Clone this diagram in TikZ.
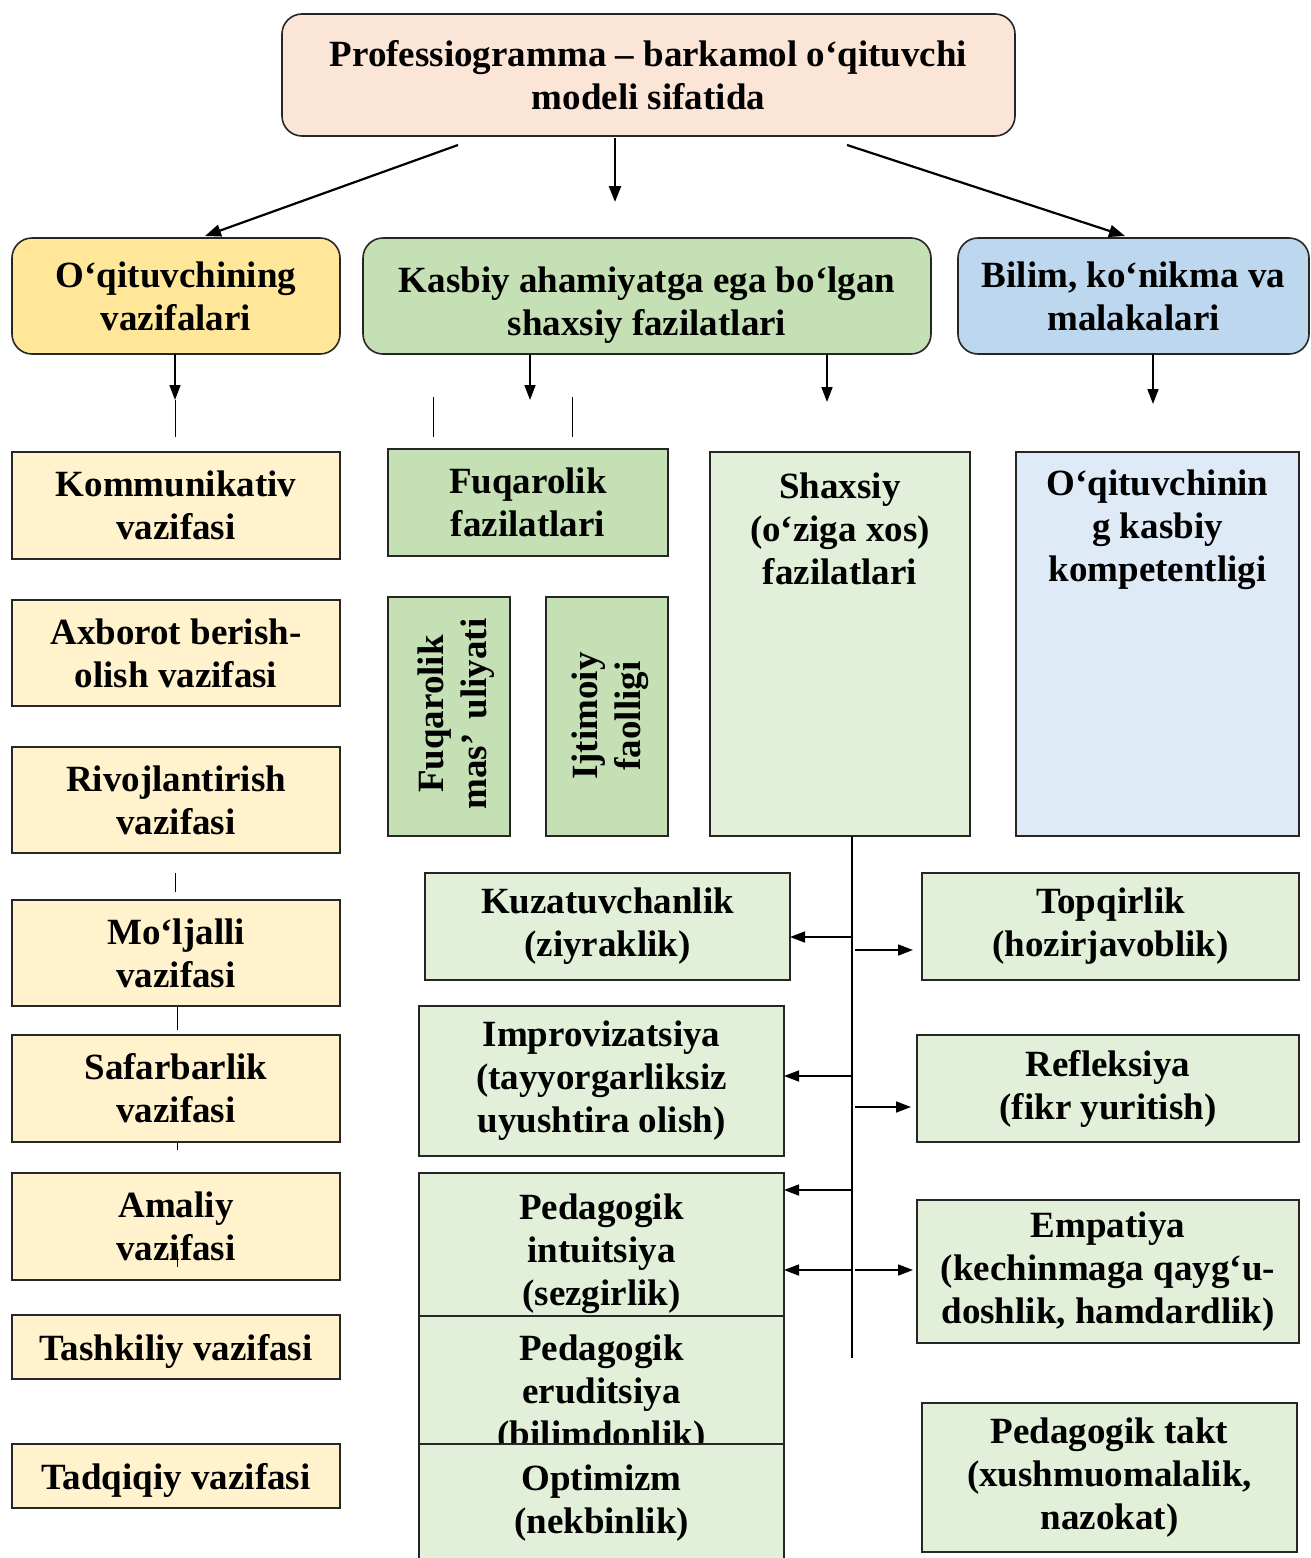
\documentclass[tikz,border=0pt]{standalone}
\usepackage{fontspec}
\setmainfont{Liberation Serif}
\usetikzlibrary{arrows.meta}
\definecolor{cpeach}{HTML}{FBE5D6}
\definecolor{cgold}{HTML}{FFE699}
\definecolor{cgreen}{HTML}{C5E0B4}
\definecolor{cblue}{HTML}{BDD7EE}
\definecolor{cyell}{HTML}{FFF2CC}
\definecolor{clgreen}{HTML}{E2F0D9}
\definecolor{clblue}{HTML}{DEEBF7}
\begin{document}
\begin{tikzpicture}[x=1pt,y=-1pt,
  txt/.style={font=\fontsize{37}{43}\selectfont\bfseries, align=center, inner sep=0pt, outer sep=0pt},
  box/.style={txt, draw=black!85, line width=1.6pt, execute at begin node={\rule{0pt}{34pt}}},
  rbox/.style={box, rounded corners=20pt},
  arr/.style={line width=1.6pt, -{Triangle[length=15pt,width=11pt]}},
  bigarr/.style={line width=2.2pt, -{Triangle[length=16pt,width=12pt]}},
  thin/.style={line width=1pt}]
\useasboundingbox (0,0) rectangle (1311,1558);

% top
\node[rbox, fill=cpeach, minimum width=733pt, minimum height=122pt] (top) at (648.5,75)
  {Professiogramma – barkamol o‘qituvchi\\modeli sifatida};

% row 2
\node[rbox, fill=cgold, minimum width=328pt, minimum height=116pt] (yel) at (176,296)
  {O‘qituvchining\\vazifalari};
\node[rbox, fill=cgreen, minimum width=568pt, minimum height=116pt] (grn) at (647,296)
  {\rule{0pt}{44pt}Kasbiy ahamiyatga ega bo‘lgan\\shaxsiy fazilatlari};
\node[rbox, fill=cblue, minimum width=351pt, minimum height=116pt] (blu) at (1133.5,296)
  {Bilim, ko‘nikma va\\malakalari};

% top arrows
\coordinate (s1) at (458,145); \coordinate (e1) at (205,236);
\coordinate (s2) at (615,138); \coordinate (e2) at (615,202);
\coordinate (s3) at (847,145); \coordinate (e3) at (1125,236);
\draw[bigarr] (s1) -- (e1);
\draw[bigarr] (s2) -- (e2);
\draw[bigarr] (s3) -- (e3);

% row2 down arrows
\coordinate (d1) at (175,400);
\coordinate (d2) at (530,400);
\coordinate (d3) at (827,402);
\coordinate (d4) at (1153,404);
\draw[arr] (d1 |- yel.south) -- (d1);
\draw[arr] (d2 |- grn.south) -- (d2);
\draw[arr] (d3 |- grn.south) -- (d3);
\draw[arr] (d4 |- blu.south) -- (d4);

% thin fragments
\coordinate (l1a) at (175,400); \coordinate (l1b) at (175,437);
\coordinate (l2a) at (433,397); \coordinate (l2b) at (433,437);
\coordinate (l3a) at (572,397); \coordinate (l3b) at (572,437);
\coordinate (l4a) at (175,873); \coordinate (l4b) at (175,892);
\coordinate (l5a) at (177,1006); \coordinate (l5b) at (177,1030);
\coordinate (l6a) at (177,1142); \coordinate (l6b) at (177,1150);
\draw[thin] (l1a) -- (l1b);
\draw[thin] (l2a) -- (l2b);
\draw[thin] (l3a) -- (l3b);
\draw[thin] (l4a) -- (l4b);
\draw[thin] (l5a) -- (l5b);
\draw[thin] (l6a) -- (l6b);

% left column
\node[box, fill=cyell, minimum width=328pt, minimum height=107pt] (komm) at (176,505.5) {Kommunikativ\\vazifasi};
\node[box, fill=cyell, minimum width=328pt, minimum height=106pt] (axb) at (176,653) {Axborot berish-\\olish vazifasi};
\node[box, fill=cyell, minimum width=328pt, minimum height=106pt] (riv) at (176,800) {Rivojlantirish\\vazifasi};
\node[box, fill=cyell, minimum width=328pt, minimum height=106pt] (mol) at (176,953) {Mo‘ljalli\\vazifasi};
\node[box, fill=cyell, minimum width=328pt, minimum height=107pt] (saf) at (176,1088.5) {Safarbarlik\\vazifasi};
\node[box, fill=cyell, minimum width=328pt, minimum height=107pt] (ama) at (176,1226.5) {Amaliy\\vazifasi};
\coordinate (l7a) at (177,1250); \coordinate (l7b) at (177,1267);
\draw[thin] (l7a) -- (l7b);
\node[box, fill=cyell, minimum width=328pt, minimum height=64pt] (tash) at (176,1347) {Tashkiliy vazifasi};
\node[box, fill=cyell, minimum width=328pt, minimum height=64pt] (tad) at (176,1476) {Tadqiqiy vazifasi};

% fuqarolik
\node[box, fill=cgreen, minimum width=280pt, minimum height=107pt] (fuqF) at (528,502.5) {Fuqarolik\\fazilatlari};
\node[box, fill=cgreen, minimum width=122pt, minimum height=239pt] (fuqM) at (449,716.5) {};
\node[txt, rotate=90] (fuqMt) at (456,714) {Fuqarolik\\mas’\hspace{14pt}uliyati};
\node[box, fill=cgreen, minimum width=122pt, minimum height=239pt] (ijt) at (607,716.5) {};
\node[txt, rotate=90] (ijtt) at (610,716) {Ijtimoiy\\faolligi};

% shaxsiy and kompetent
\node[box, fill=clgreen, minimum width=260pt, minimum height=384pt] (shx) at (840,644) {};
\node[txt, anchor=north] (shxt) at (840,473) {Shaxsiy\\(o‘ziga xos)\\fazilatlari};
\node[box, fill=clblue, minimum width=283pt, minimum height=384pt] (komp) at (1157.5,644) {};
\node[txt, anchor=north] (kompt) at (1157.5,470) {O‘qituvchinin\\g kasbiy\\kompetentligi};

% middle column
\node[box, fill=clgreen, minimum width=365pt, minimum height=107pt] (kuz) at (607.5,926.5) {Kuzatuvchanlik\\(ziyraklik)};
\node[box, fill=clgreen, minimum width=365pt, minimum height=150pt] (imp) at (601.5,1081) {Improvizatsiya\\(tayyorgarliksiz\\uyushtira olish)};
\node[box, fill=clgreen, minimum width=365pt, minimum height=143pt] (intu) at (601.5,1244.5) {};
\node[txt] (intut) at (601.5,1254) {Pedagogik\\intuitsiya\\(sezgirlik)};
\node[box, fill=clgreen, minimum width=365pt, minimum height=128pt] (erud) at (601.5,1380) {};
\node[txt] (erudt) at (601.5,1395) {Pedagogik\\eruditsiya\\(bilimdonlik)};
\node[fill=clgreen, inner sep=0pt, minimum width=365pt, minimum height=114pt] (opt) at (601.5,1501) {};
\draw[draw=black!85, line width=1.6pt] (opt.south west) -- (opt.north west) -- (opt.north east) -- (opt.south east);
\node[txt] (optt) at (601.5,1503) {Optimizm\\(nekbinlik)};

% right column
\node[box, fill=clgreen, minimum width=377pt, minimum height=107pt] (topq) at (1110.5,926.5) {Topqirlik\\(hozirjavoblik)};
\node[box, fill=clgreen, minimum width=382pt, minimum height=107pt] (refl) at (1108,1088.5) {Refleksiya\\(fikr yuritish)};
\node[box, fill=clgreen, minimum width=382pt, minimum height=143pt] (emp) at (1108,1271.5) {Empatiya\\(kechinmaga qayg‘u-\\doshlik, hamdardlik)};
\node[box, fill=clgreen, minimum width=375pt, minimum height=149pt] (takt) at (1109.5,1477.5) {Pedagogik takt\\(xushmuomalalik,\\nazokat)};

% trunk
\coordinate (tt) at (852,836);
\coordinate (tb) at (852,1358);
\draw[line width=1.2pt] (tt) -- (tb);
\coordinate (t1) at (852,937);
\coordinate (t2) at (852,1076);
\coordinate (t3) at (852,1190);
\coordinate (t4) at (852,1270);
\draw[arr] (t1) -- (t1 -| kuz.east);
\draw[arr] (t2) -- (t2 -| imp.east);
\draw[arr] (t3) -- (t3 -| intu.east);
\draw[arr] (t4) -- (t4 -| intu.east);
\coordinate (r1) at (855,950); \coordinate (r1e) at (913,950);
\coordinate (r2) at (855,1107); \coordinate (r2e) at (911,1107);
\coordinate (r3) at (855,1270); \coordinate (r3e) at (913,1270);
\draw[arr] (r1) -- (r1e);
\draw[arr] (r2) -- (r2e);
\draw[arr] (r3) -- (r3e);
\end{tikzpicture}
\end{document}
